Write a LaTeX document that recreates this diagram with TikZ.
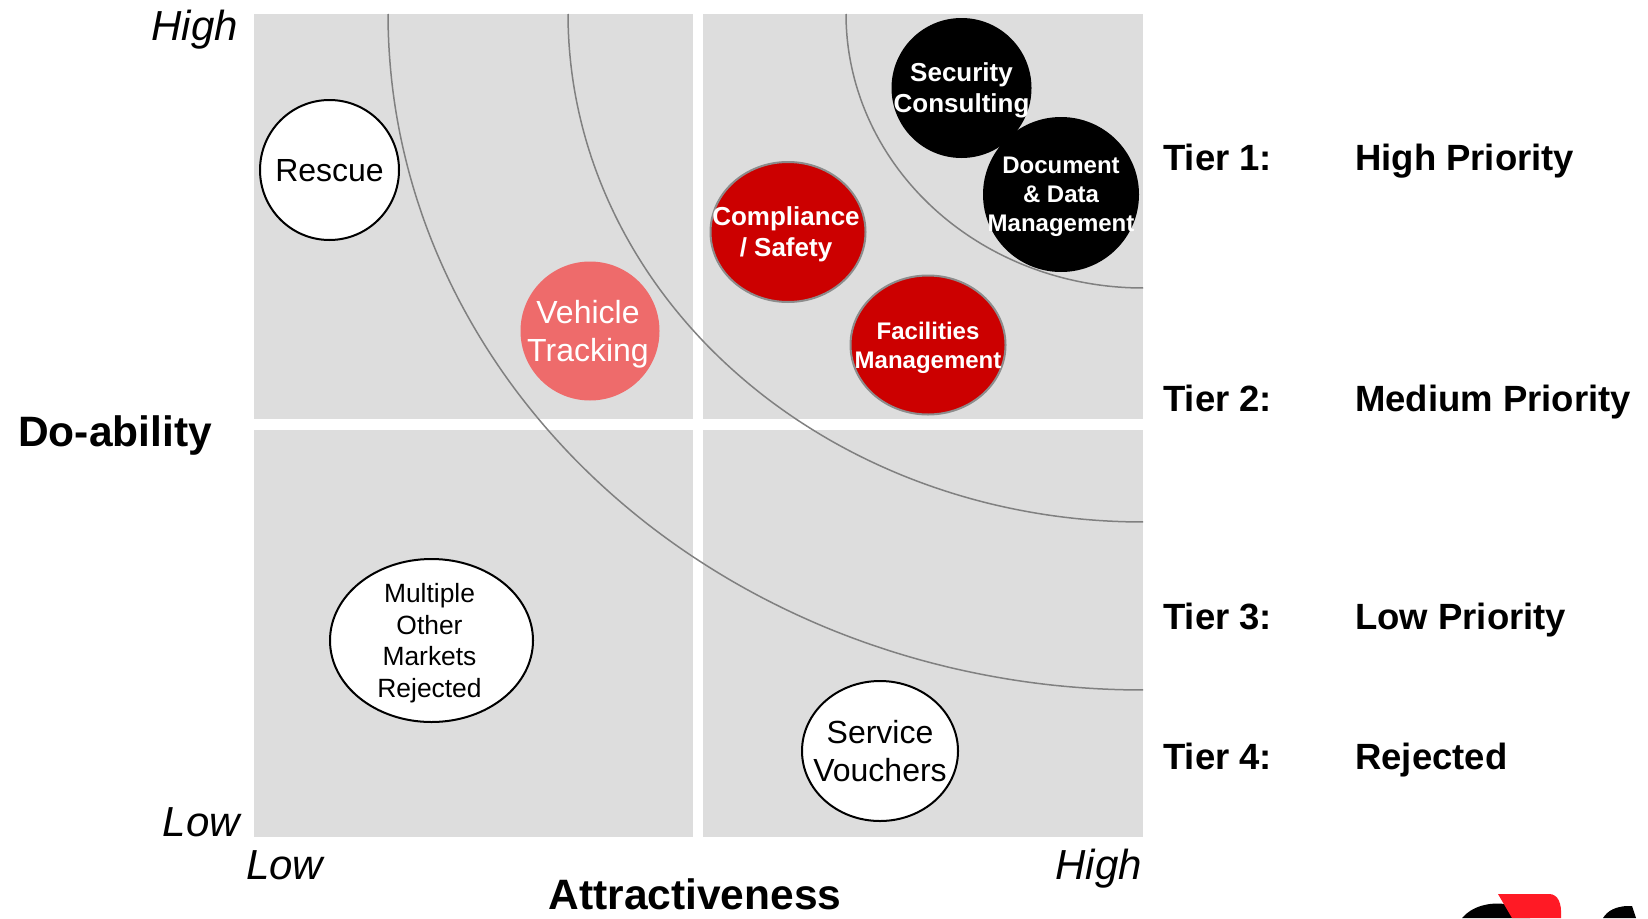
\documentclass[tikz,border=0pt]{standalone}
\usepackage{fontspec}
\setmainfont{Liberation Sans}
\usetikzlibrary{shapes.geometric}
\definecolor{quadgray}{HTML}{DDDDDD}
\definecolor{darkred}{HTML}{CC0000}
\definecolor{salmon}{HTML}{EE6B6B}
\definecolor{arcgray}{HTML}{808080}
\definecolor{rimgray}{HTML}{8C8C8C}
\definecolor{logored}{HTML}{FF1A25}
\tikzset{
  quad/.style={fill=quadgray},
  tierarc/.style={draw=arcgray, line width=1.5pt},
  bubble/.style={ellipse, inner sep=0pt, outer sep=0pt},
  whitebub/.style={bubble, fill=white, draw=black, line width=2pt},
  redbub/.style={bubble, fill=darkred, draw=rimgray, line width=2pt},
  blackbub/.style={bubble, fill=black},
  salmonbub/.style={bubble, fill=salmon},
  btext/.style={align=center, inner sep=0pt, text depth=0pt},
  boldbig/.style={btext, text=white, font=\fontsize{26}{31}\selectfont\bfseries},
  boldsmall/.style={btext, text=white, font=\fontsize{24}{29}\selectfont\bfseries},
  regbig/.style={btext, font=\fontsize{32}{38}\selectfont},
  regsmall/.style={btext, font=\fontsize{26.4}{31.7}\selectfont},
  axisend/.style={inner sep=0pt, font=\fontsize{42}{48}\selectfont\itshape},
  axistitle/.style={inner sep=0pt, font=\fontsize{42.5}{48}\selectfont\bfseries},
  tierlab/.style={inner sep=0pt, anchor=base west, font=\fontsize{36.5}{42}\selectfont\bfseries}
}
\begin{document}
\begin{tikzpicture}[x=1pt,y=-1pt]
\useasboundingbox (0,0) rectangle (1648,918);
\fill[white] (0,0) rectangle (1648,918);
% quadrants
\fill[quad] (254,14) rectangle (693,419);
\fill[quad] (703,14) rectangle (1143,419);
\fill[quad] (254,430) rectangle (693,837);
\fill[quad] (703,430) rectangle (1143,837);
% tier arcs
\draw[tierarc] plot[domain=0:90, samples=80, smooth] ({1143-297*cos(\x)},{14+274*sin(\x)});
\draw[tierarc] plot[domain=0:90, samples=80, smooth] ({1143-575*cos(\x)},{14+508*sin(\x)});
\draw[tierarc] plot[domain=0:90, samples=80, smooth] ({1143-755*cos(\x)},{14+676*sin(\x)});
% bubbles
\node[whitebub, minimum width=139, minimum height=140] (res) at (329.5,170) {};
\node[salmonbub, minimum width=139, minimum height=139] (veh) at (590,331) {};
\node[redbub, minimum width=155, minimum height=140] (comp) at (788,232) {};
\node[redbub, minimum width=155, minimum height=139] (fac) at (928,345) {};
\node[blackbub, minimum width=140, minimum height=140] (sec) at (961.5,88) {};
\node[blackbub, minimum width=156, minimum height=155] (doc) at (1061,194.5) {};
\node[whitebub, minimum width=203, minimum height=163] (mult) at (431.5,640.5) {};
\node[whitebub, minimum width=156, minimum height=140] (serv) at (880,751) {};
% bubble texts
\node[regbig] (resT) at (res.center) {Rescue};
\node[regbig, text=white] (vehT) at ([xshift=-2]veh.center) {Vehicle\\Tracking};
\node[boldbig] (compT) at ([xshift=-2]comp.center) {Compliance\\/ Safety};
\node[boldsmall] (facT) at (fac.center) {Facilities\\Management};
\node[boldbig] (secT) at (sec.center) {Security\\Consulting};
\node[boldsmall] (docT) at (doc.center) {Document\\\& Data\\Management};
\node[regsmall] (multT) at ([xshift=-2]mult.center) {Multiple\\Other\\Markets\\Rejected};
\node[regbig] (servT) at (serv.center) {Service\\Vouchers};
% axis labels
\node[axisend, anchor=base east] (yhigh) at (238,40) {High};
\node[axisend, anchor=base east] (ylow) at (240,836) {Low};
\node[axisend, anchor=base west] (xlow) at (246,879) {Low};
\node[axisend, anchor=base east] (xhigh) at (1142,879) {High};
\node[axistitle, anchor=base] (attr) at (695,909) {Attractiveness};
\node[axistitle, anchor=base west] (doab) at (18,446) {Do-ability};
% tiers
\node[tierlab] (t1) at (1163,170) {Tier 1:};
\node[tierlab] (p1) at (1355,170) {High Priority};
\node[tierlab] (t2) at (1163,411) {Tier 2:};
\node[tierlab] (p2) at (1355,411) {Medium Priority};
\node[tierlab] (t3) at (1163,629) {Tier 3:};
\node[tierlab] (p3) at (1355,629) {Low Priority};
\node[tierlab] (t4) at (1163,769) {Tier 4:};
\node[tierlab] (p4) at (1355,769) {Rejected};
% logo fragment
\fill[black] (1462,918) .. controls (1472,906) and (1490,902) .. (1505,904) .. controls (1518,906) and (1526,912) .. (1530,918) -- cycle;
\fill[logored] (1498,894) -- (1549,894) .. controls (1558,894) and (1562,903) .. (1561,918) -- (1512,918) -- cycle;
\fill[black] (1603,918) .. controls (1608,910) and (1616,907) .. (1626,906) -- (1632,906) -- (1636,918) -- cycle;
\end{tikzpicture}
\end{document}
